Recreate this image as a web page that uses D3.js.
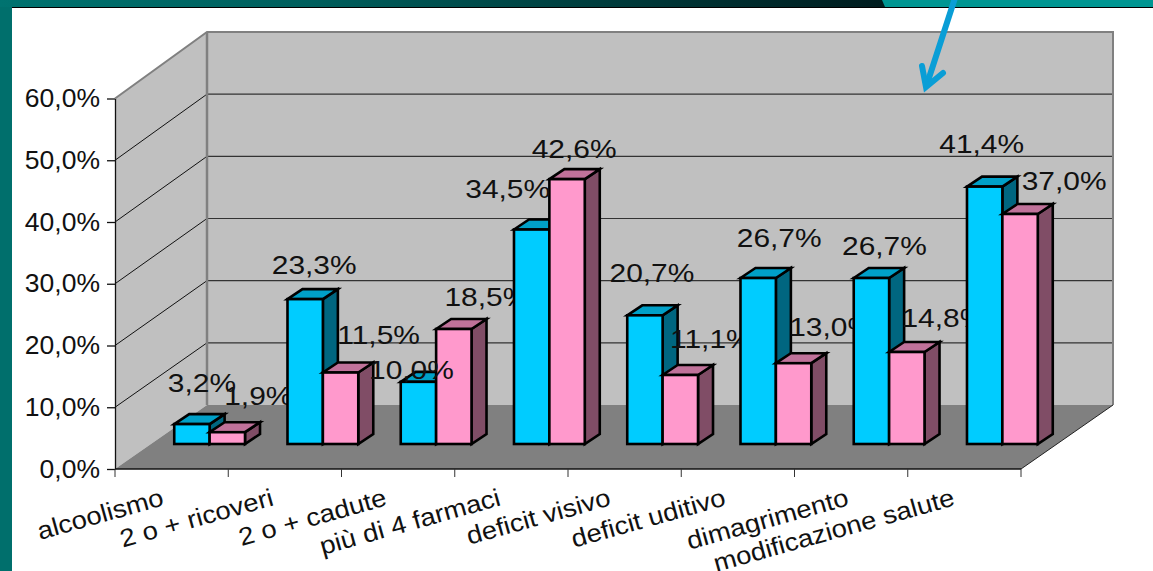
<!DOCTYPE html>
<html>
<head>
<meta charset="utf-8">
<script src="https://cdnjs.cloudflare.com/ajax/libs/d3/7.8.5/d3.min.js"></script>
<style>
  html, body { margin: 0; padding: 0; background: #fff; overflow: hidden; }
  text { font-family: "Liberation Sans", Arial, sans-serif; fill: #111; }
</style>
</head>
<body>
<svg class="chart" width="1153" height="571"></svg>
<script>
var categories = ['alcoolismo', '2 o + ricoveri', '2 o + cadute', 'più di 4 farmaci', 'deficit visivo', 'deficit uditivo', 'dimagrimento', 'modificazione salute'];
var seriesNames = ['a', 'b'];
var blueValues = [3.2, 23.3, 10.0, 34.5, 20.7, 26.7, 26.7, 41.4];
var pinkValues = [1.9, 11.5, 18.5, 42.6, 11.1, 13.0, 14.8, 37.0];
var yTicks = [0, 10, 20, 30, 40, 50, 60];

// the labels sit wherever the original chart left them, so nudge each one from its bar top
var blueNudge = [[10, -42], [9, -36], [-7, -13], [-24, -43], [7, -44], [21, -42], [13, -34], [-3, -45]];
var pinkNudge = [[31, -37], [38, -39], [33, -33], [7, -32], [31, -37], [38, -37], [37, -35], [44, -35]];

var colors = {
  a: { front: '#00ccff', top: '#00a0c8', side: '#006680' },
  b: { front: '#ff99cc', top: '#c0729a', side: '#804d66' }
};

var plotLeft = 115, plotRight = 1021, plotBottom = 469, plotTop = 98.5;
var wallX = 92, wallY = -64;       // depth of the floor
var rowX = 38, rowY = -25;         // where the bars stand on the floor
var barX = 15, barY = -10;         // depth of one bar

var x = d3.scaleBand().domain(categories).range([plotLeft, plotRight]);
var x1 = d3.scaleBand().domain(seriesNames).range([0, x.bandwidth()]).paddingInner(0).paddingOuter(0.6);
var y = d3.scaleLinear().domain([0, 60]).range([plotBottom, plotTop]);
// back wall and bars are a touch taller than the front axis
var yBack = d3.scaleLinear().domain([0, 60]).range([plotBottom + wallY, 32]);

var fmt = d => d.toFixed(1).replace('.', ',') + '%';
var pts = arr => arr.map(p => p.join(',')).join(' ');

var chart = d3.select('.chart');

// slide background
var defs = chart.append('defs');
var grad = defs.append('linearGradient').attr('id', 'band');
grad.append('stop').attr('offset', '0').attr('stop-color', '#007370');
grad.append('stop').attr('offset', '0.35').attr('stop-color', '#005f5d');
grad.append('stop').attr('offset', '1').attr('stop-color', '#001c1e');

chart.append('rect').attr('width', 12).attr('height', 571).attr('fill', '#006f6c');
chart.append('rect').attr('width', 885).attr('height', 7).attr('fill', 'url(#band)');
chart.append('polygon').attr('points', '882,0 885,7 1153,7 1153,0').attr('fill', '#009692');
chart.append('rect').attr('x', 12).attr('y', 7).attr('width', 1141).attr('height', 1).attr('fill', '#000');

// walls and floor
var walls = chart.append('g').attr('class', 'walls');
walls.append('polygon')
  .attr('points', pts([[plotLeft, y(60)], [plotLeft + wallX, yBack(60)], [plotLeft + wallX, yBack(0)], [plotLeft, plotBottom]]))
  .attr('fill', '#c0c0c0');
walls.append('rect')
  .attr('x', plotLeft + wallX).attr('y', yBack(60))
  .attr('width', plotRight - plotLeft).attr('height', yBack(0) - yBack(60))
  .attr('fill', '#c0c0c0');
walls.append('polygon')
  .attr('points', pts([[plotLeft, plotBottom], [plotLeft + wallX, yBack(0)], [plotRight + wallX, yBack(0)], [plotRight, plotBottom]]))
  .attr('fill', '#808080');

// gridlines
yTicks.slice(1, -1).forEach(t => {
  walls.append('line')
    .attr('x1', plotLeft).attr('y1', y(t))
    .attr('x2', plotLeft + wallX).attr('y2', yBack(t))
    .attr('stroke', '#111').attr('stroke-width', 1);
  walls.append('line')
    .attr('x1', plotLeft + wallX).attr('y1', yBack(t))
    .attr('x2', plotRight + wallX).attr('y2', yBack(t))
    .attr('stroke', '#333').attr('stroke-width', 1.2);
});

// grey wall edges
walls.append('polyline')
  .attr('points', pts([[plotLeft, y(60)], [plotLeft + wallX, yBack(60)], [plotRight + wallX, yBack(60)], [plotRight + wallX, yBack(0)]]))
  .attr('fill', 'none').attr('stroke', '#808080').attr('stroke-width', 2);
walls.append('line')
  .attr('x1', plotLeft + wallX).attr('y1', yBack(60))
  .attr('x2', plotLeft + wallX).attr('y2', yBack(0))
  .attr('stroke', '#808080').attr('stroke-width', 2.5);
walls.append('line')
  .attr('x1', plotRight).attr('y1', plotBottom)
  .attr('x2', plotRight + wallX).attr('y2', yBack(0))
  .attr('stroke', '#222').attr('stroke-width', 1);

// y axis
var yAxis = d3.axisLeft(y).tickValues(yTicks).tickFormat(fmt).tickSize(8).tickSizeOuter(0).tickPadding(0);
var yG = chart.append('g')
  .attr('class', 'y axis')
  .attr('transform', 'translate(' + plotLeft + ',0)')
  .call(yAxis);
yG.selectAll('path, line').attr('stroke', '#111').attr('stroke-width', 1.3);
yG.selectAll('text')
  .attr('font-size', 26).attr('font-family', null).attr('dy', null)
  .attr('x', null)
  .attr('text-anchor', 'end')
  .attr('transform', 'translate(-15,8) scale(1.02,1)');

// x axis, ticks fall on the band edges
var xG = chart.append('g').attr('class', 'x axis');
xG.append('line')
  .attr('x1', plotLeft).attr('x2', plotRight)
  .attr('y1', plotBottom).attr('y2', plotBottom)
  .attr('stroke', '#111').attr('stroke-width', 1.3);
categories.concat([null]).forEach(c => {
  var px = c === null ? plotRight : x(c);
  xG.append('line')
    .attr('x1', px).attr('x2', px)
    .attr('y1', plotBottom).attr('y2', plotBottom + 8)
    .attr('stroke', '#333').attr('stroke-width', 1);
});

var labelEnds = [[165, 505], [275, 505], [388, 505], [502, 505], [612, 505], [727, 505], [850, 505], [956, 505]];
xG.selectAll('.cat')
  .data(categories)
  .enter().append('text')
  .attr('class', 'cat')
  .attr('text-anchor', 'end')
  .attr('font-size', 25)
  .attr('transform', (d, i) => 'translate(' + labelEnds[i][0] + ',' + labelEnds[i][1] + ') rotate(-15.6) scale(1.1,1)')
  .text(d => d);

// bars, group by group, so later bars cover the earlier labels
function drawBar(g, cat, name, value) {
  var x0 = x(cat) + x1(name) + rowX;
  var x2 = x0 + x1.bandwidth();
  var base = y(0) + rowY;
  var tp = base - (yBack(0) - yBack(value));
  var c = colors[name];
  var bar = g.append('g').attr('stroke', '#000').attr('stroke-width', 2.6).attr('stroke-linejoin', 'miter');
  bar.append('polygon')
    .attr('points', pts([[x2, tp], [x2 + barX, tp + barY], [x2 + barX, base + barY], [x2, base]]))
    .attr('fill', c.side);
  bar.append('polygon')
    .attr('points', pts([[x0, tp], [x0 + barX, tp + barY], [x2 + barX, tp + barY], [x2, tp]]))
    .attr('fill', c.top);
  bar.append('rect')
    .attr('x', x0).attr('y', tp)
    .attr('width', x2 - x0).attr('height', base - tp)
    .attr('fill', c.front);
}

function drawLabel(g, cat, name, value, nudge) {
  var cx = x(cat) + x1(name) + rowX + x1.bandwidth() / 2 + nudge[0];
  var cy = y(value) + rowY + nudge[1];
  g.append('text')
    .attr('text-anchor', 'middle')
    .attr('font-size', 26.5)
    .attr('dy', '0.36em')
    .attr('transform', 'translate(' + cx + ',' + cy + ') scale(1.13,1)')
    .text(fmt(value));
}

categories.forEach((cat, i) => {
  var g = chart.append('g').attr('class', 'group');
  drawBar(g, cat, 'a', blueValues[i]);
  drawBar(g, cat, 'b', pinkValues[i]);
  drawLabel(g, cat, 'a', blueValues[i], blueNudge[i]);
  drawLabel(g, cat, 'b', pinkValues[i], pinkNudge[i]);
});

// arrow drawn on top of the slide
var arrow = chart.append('g')
  .attr('fill', 'none')
  .attr('stroke', '#0a9ed6')
  .attr('stroke-width', 6)
  .attr('stroke-linecap', 'round')
  .attr('stroke-linejoin', 'miter');
arrow.append('path').attr('d', 'M955,-2 L927,84');
arrow.append('path').attr('d', 'M922,66 L926,87 L943,73');
</script>
</body>
</html>
